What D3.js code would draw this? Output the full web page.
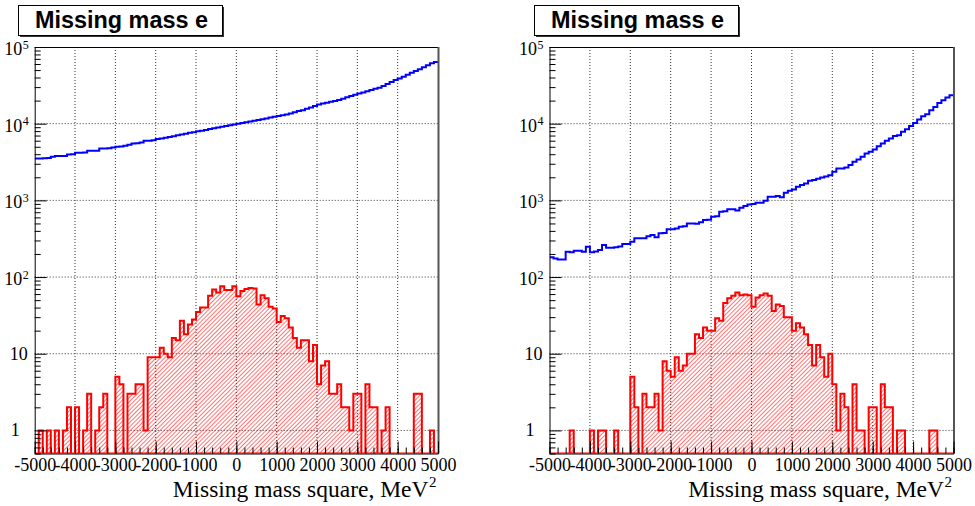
<!DOCTYPE html>
<html><head><meta charset="utf-8">
<script src="https://cdn.jsdelivr.net/npm/d3@7"></script>
<style>body{margin:0;background:#fff}svg{display:block}</style>
</head><body>
<svg id="c" width="975" height="506"></svg>
<script>
// ---------- data ----------
const xMin = -5000, xMax = 5000, binWidth = 100;
const xTickValues = [-5000,-4000,-3000,-2000,-1000,0,1000,2000,3000,4000,5000];
const xTickLabels = ["-5000","-4000","-3000","-2000","-1000","0","1000","2000","3000","4000","5000"];
const yTickValues = [1,10,100,1000,10000,100000];
const yLabelBase = ["1","10","10","10","10","10"];
const yLabelExp  = ["","","2","3","4","5"];
const titleText = "Missing mass e";
const xAxisTitle = "Missing mass square, MeV";
const xAxisTitleSup = "2";

// left panel: all events (blue) and selected (red), 100 bins of 100 MeV^2
const leftBlue = [
 3520,3520,3540,3560,3700,3780,3780,3800,3950,4000,
 4170,4180,4200,4425,4430,4450,4755,4760,4780,4900,
 4990,5050,5150,5300,5525,5550,5700,5970,6000,6100,
 6300,6400,6550,6700,6850,7080,7200,7400,7600,7750,
 7940,8100,8300,8500,8700,8900,9100,9350,9550,9750,
 10000,10200,10450,10700,10950,11200,11450,11700,12000,12300,
 12600,12900,13200,13600,14100,14600,15000,15600,16300,17000,
 17800,18300,18800,19300,19800,20400,21200,22100,23000,23800,
 24700,25600,26500,27500,28500,29500,31000,33000,35000,37000,
 38700,41000,43500,46000,48500,51300,54500,58000,61500,63800];
const leftRed = [
 0,1,0,1,0,1,0,1,2,0,
 2,0,1,3,0,1,2,3,0,0,
 5,4,0,3,3,4,4,1,9,9,
 9,12,10,9,16,15,27,18,24,28,
 35,40,40,57,69,63,76,68,68,76,
 56,66,70,72,71,44,58,53,41,39,
 26,31,29,22,16,12,15,15,8,13,
 4,7,8,3,3,4,2,2,1,3,
 3,0,4,2,2,0,1,2,0,0,
 0,0,0,0,3,3,0,0,1,0];
const rightBlue = [
 181,175,170,170,214,210,221,221,213,249,
 210,215,225,262,241,241,245,250,270,270,
 289,320,320,320,340,353,330,372,375,419,
 419,430,453,460,501,501,495,520,555,560,
 611,620,711,720,764,764,740,800,843,880,
 895,931,931,988,1114,1114,1137,1094,1256,1334,
 1390,1503,1581,1663,1799,1850,1910,1991,2051,2133,
 2356,2606,2606,2690,2883,3184,3420,3700,4093,4295,
 4614,5096,5525,5970,6413,6900,7080,7820,8475,9360,
 10230,11340,12500,13300,15000,16560,18660,20230,21930,23500];
const rightRed = [
 0,0,0,0,0,1,0,0,0,0,
 1,0,1,1,0,0,1,0,0,0,
 5,2,0,3,2,2,3,1,8,6,
 5,9,6,7,10,10,18,16,22,20,
 20,29,27,46,53,57,63,58,59,58,
 41,54,58,61,57,36,44,42,30,30,
 20,25,22,18,13,7,13,9,5,10,
 4,1,3,2,0,4,1,1,0,2,
 2,0,4,2,2,0,1,1,0,0,
 0,0,0,0,1,1,0,0,0,0];

// ---------- drawing ----------
const svg = d3.select("#c");
const defs = svg.append("defs");
const pat = defs.append("pattern").attr("id","hatch").attr("patternUnits","userSpaceOnUse")
  .attr("width",3).attr("height",3).attr("patternTransform","rotate(45)");
pat.append("line").attr("x1",0.5).attr("y1",0).attr("x2",0.5).attr("y2",3)
  .attr("stroke","#ff0000").attr("stroke-width",0.9).attr("stroke-opacity",0.6);

const yMinVal = 0.5, yMaxVal = 1e5;
const panels = [
  {left:34.7, right:438, box:[18,5,204,30], blue:leftBlue, red:leftRed, id:0},
  {left:549.5, right:953.5, box:[534,5,204,30], blue:rightBlue, red:rightRed, id:1}
];
const plotTop = 47, plotBottom = 453.5;
const serif = "'Liberation Serif','Times New Roman',serif";

panels.forEach(p => {
  const x = d3.scaleLinear().domain([xMin,xMax]).range([p.left,p.right]);
  const y = d3.scaleLog().domain([yMinVal,yMaxVal]).range([plotBottom,plotTop]);
  const g = svg.append("g");

  defs.append("clipPath").attr("id","clip"+p.id).append("rect")
    .attr("x",p.left).attr("y",plotTop).attr("width",p.right-p.left).attr("height",plotBottom-plotTop);

  // grid
  const grid = g.append("g").attr("stroke","#333").attr("stroke-width",1).attr("stroke-dasharray","1,2");
  xTickValues.slice(1,-1).forEach(v => {
    grid.append("line").attr("x1",x(v)).attr("x2",x(v)).attr("y1",plotTop).attr("y2",plotBottom);
  });
  yTickValues.slice(0,-1).forEach(v => {
    grid.append("line").attr("x1",p.left).attr("x2",p.right).attr("y1",y(v)).attr("y2",y(v));
  });

  const clipG = g.append("g").attr("clip-path","url(#clip"+p.id+")");
  const yv = v => y(Math.max(v, yMinVal));
  let d = "M" + x(xMin) + "," + plotBottom;
  p.red.forEach((v,i) => {
    const a = x(xMin + i*binWidth), b = x(xMin + (i+1)*binWidth);
    d += "L" + a + "," + yv(v) + "L" + b + "," + yv(v);
  });
  d += "L" + x(xMax) + "," + plotBottom + "Z";
  clipG.append("path").attr("d",d).attr("fill","url(#hatch)").attr("stroke","none");
  clipG.append("path").attr("d",d).attr("fill","none").attr("stroke","#ff0000").attr("stroke-width",2);

  let db = "";
  p.blue.forEach((v,i) => {
    const a = x(xMin + i*binWidth), b = x(xMin + (i+1)*binWidth);
    db += (i===0 ? "M" : "L") + a + "," + yv(v) + "L" + b + "," + yv(v);
  });
  clipG.append("path").attr("d",db).attr("fill","none").attr("stroke","#0000ff").attr("stroke-width",2);

  g.append("line").attr("x1",p.left).attr("x2",p.right).attr("y1",plotTop+0.5).attr("y2",plotTop+0.5).attr("stroke","#000").attr("stroke-width",1);
  g.append("line").attr("x1",p.right+0.5).attr("x2",p.right+0.5).attr("y1",plotTop).attr("y2",plotBottom).attr("stroke","#555").attr("stroke-width",2);

  const minorX = d3.range(xMin, xMax+1, 200);
  g.append("g").attr("transform","translate(0,"+plotBottom+")")
    .call(d3.axisBottom(x).tickValues(minorX).tickSizeInner(-6).tickSizeOuter(0).tickFormat(""))
    .call(s => s.select(".domain").remove());
  const xa = g.append("g").attr("transform","translate(0,"+plotBottom+")")
    .call(d3.axisBottom(x).tickValues(xTickValues).tickSizeInner(-12).tickSizeOuter(0)
      .tickFormat((v,i) => xTickLabels[i]));
  xa.selectAll("text").attr("y",17.5).attr("dy",0).attr("font-family",serif).attr("font-size",18).attr("fill","#000");

  const minorY = [];
  [0.1,1,10,100,1000,10000].forEach(dec => { for (let k=2;k<=9;k++){ const v=k*dec; if (v>=yMinVal && v<=yMaxVal) minorY.push(v);} });
  g.append("g").attr("transform","translate("+p.left+",0)")
    .call(d3.axisLeft(y).tickValues(minorY).tickSizeInner(-6).tickSizeOuter(0).tickFormat(""))
    .call(s => s.select(".domain").remove());
  g.append("g").attr("transform","translate("+p.left+",0)")
    .call(d3.axisLeft(y).tickValues(yTickValues).tickSizeInner(-12).tickSizeOuter(0).tickFormat(""));
  yTickValues.forEach((v,i) => {
    const yy = y(v);
    if (yLabelExp[i] === "") {
      const t = g.append("text").attr("font-family",serif).attr("font-size",18).attr("fill","#000")
        .attr("y", yy+6).text(yLabelBase[i]);
      if (yLabelBase[i] === "1") t.attr("x", p.left-19.5).attr("text-anchor","middle");
      else t.attr("x", p.left-7).attr("text-anchor","end");
    } else {
      g.append("text").attr("font-family",serif).attr("font-size",18).attr("fill","#000")
        .attr("x", p.left-12.5).attr("y", yy+8).attr("text-anchor","end").text(yLabelBase[i]);
      g.append("text").attr("font-family",serif).attr("font-size",12).attr("fill","#000")
        .attr("x", p.left-12).attr("y", yy+1.5).attr("text-anchor","start").text(yLabelExp[i]);
    }
  });

  g.append("text").attr("font-family",serif).attr("font-size",23.5).attr("fill","#000")
    .attr("x", p.right-9.5).attr("y", 497).attr("text-anchor","end").text(xAxisTitle);
  g.append("text").attr("font-family",serif).attr("font-size",15).attr("fill","#000")
    .attr("x", p.right-9).attr("y", 486.5).attr("text-anchor","start").text(xAxisTitleSup);

  const [bx,by,bw,bh] = p.box;
  g.append("rect").attr("x",bx+2).attr("y",by+2).attr("width",bw).attr("height",bh).attr("fill","#333");
  g.append("rect").attr("x",bx+0.5).attr("y",by+0.5).attr("width",bw).attr("height",bh)
    .attr("fill","#fff").attr("stroke","#000").attr("stroke-width",1);
  g.append("text").attr("font-family","'Liberation Sans',Arial,sans-serif").attr("font-weight","bold")
    .attr("font-size",23).attr("fill","#000").attr("x",bx+bw/2+1.5).attr("y",by+22.5)
    .attr("text-anchor","middle").attr("textLength",173).attr("lengthAdjust","spacingAndGlyphs").text(titleText);
});
</script>
</body></html>
